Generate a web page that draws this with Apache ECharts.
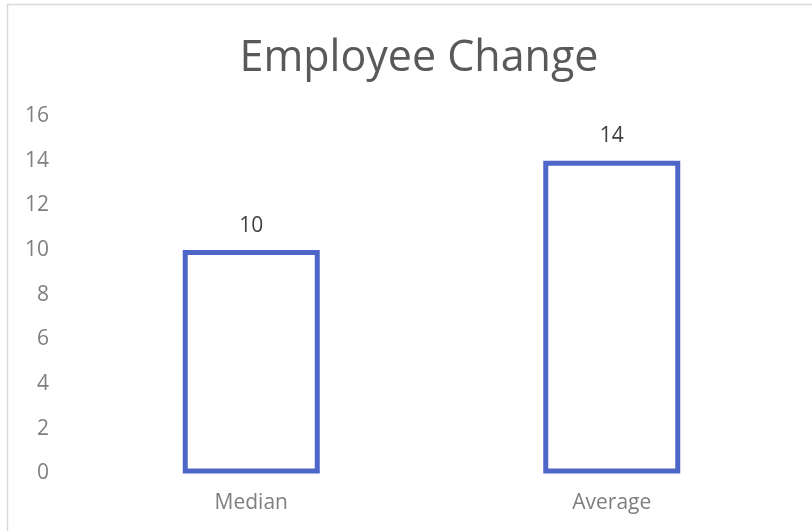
<!DOCTYPE html>
<html>
<head>
<meta charset="utf-8">
<script src="https://cdn.jsdelivr.net/npm/echarts@6/dist/echarts.min.js"></script>
<style>
  html, body { margin: 0; padding: 0; background: #fff; }
  #chart { width: 812px; height: 531px; }
</style>
</head>
<body>
<div id="chart"></div>
<script>
const categories = ['Median', 'Average'];
const values = [10, 14];
const yTicks = [0, 2, 4, 6, 8, 10, 12, 14, 16];

const chart = echarts.init(document.getElementById('chart'));
const option = {
  backgroundColor: '#fff',
  textStyle: { fontFamily: 'Open Sans' },
  title: {
    text: 'Employee Change',
    left: 414,
    textAlign: 'center',
    top: 32,
    textStyle: { color: '#595959', fontSize: 43, fontWeight: 'normal', fontFamily: 'Open Sans' }
  },
  // light chart border
  graphic: [{
    type: 'rect',
    shape: { x: 7.5, y: 4.5, width: 830, height: 560 },
    style: { fill: 'none', stroke: '#d9d9d9', lineWidth: 1.5 },
    silent: true
  }],
  grid: { left: 71, right: 20, top: 116, bottom: 57.5 },
  xAxis: {
    type: 'category',
    data: categories,
    axisLine: { show: false },
    axisTick: { show: false },
    axisLabel: { color: '#7f7f7f', fontSize: 21, margin: 19 }
  },
  yAxis: {
    type: 'value',
    min: yTicks[0],
    max: yTicks[yTicks.length - 1],
    interval: 2,
    splitLine: { show: false },
    axisLine: { show: false },
    axisTick: { show: false },
    axisLabel: { color: '#7f7f7f', fontSize: 21, margin: 22 }
  },
  series: [{
    type: 'bar',
    data: values,
    barWidth: 137,
    itemStyle: { color: '#fff', borderColor: '#4e66c8', borderWidth: 5 },
    label: { show: true, position: 'top', distance: 14, color: '#404040', fontSize: 21 }
  }]
};
chart.setOption(option);
</script>
</body>
</html>
